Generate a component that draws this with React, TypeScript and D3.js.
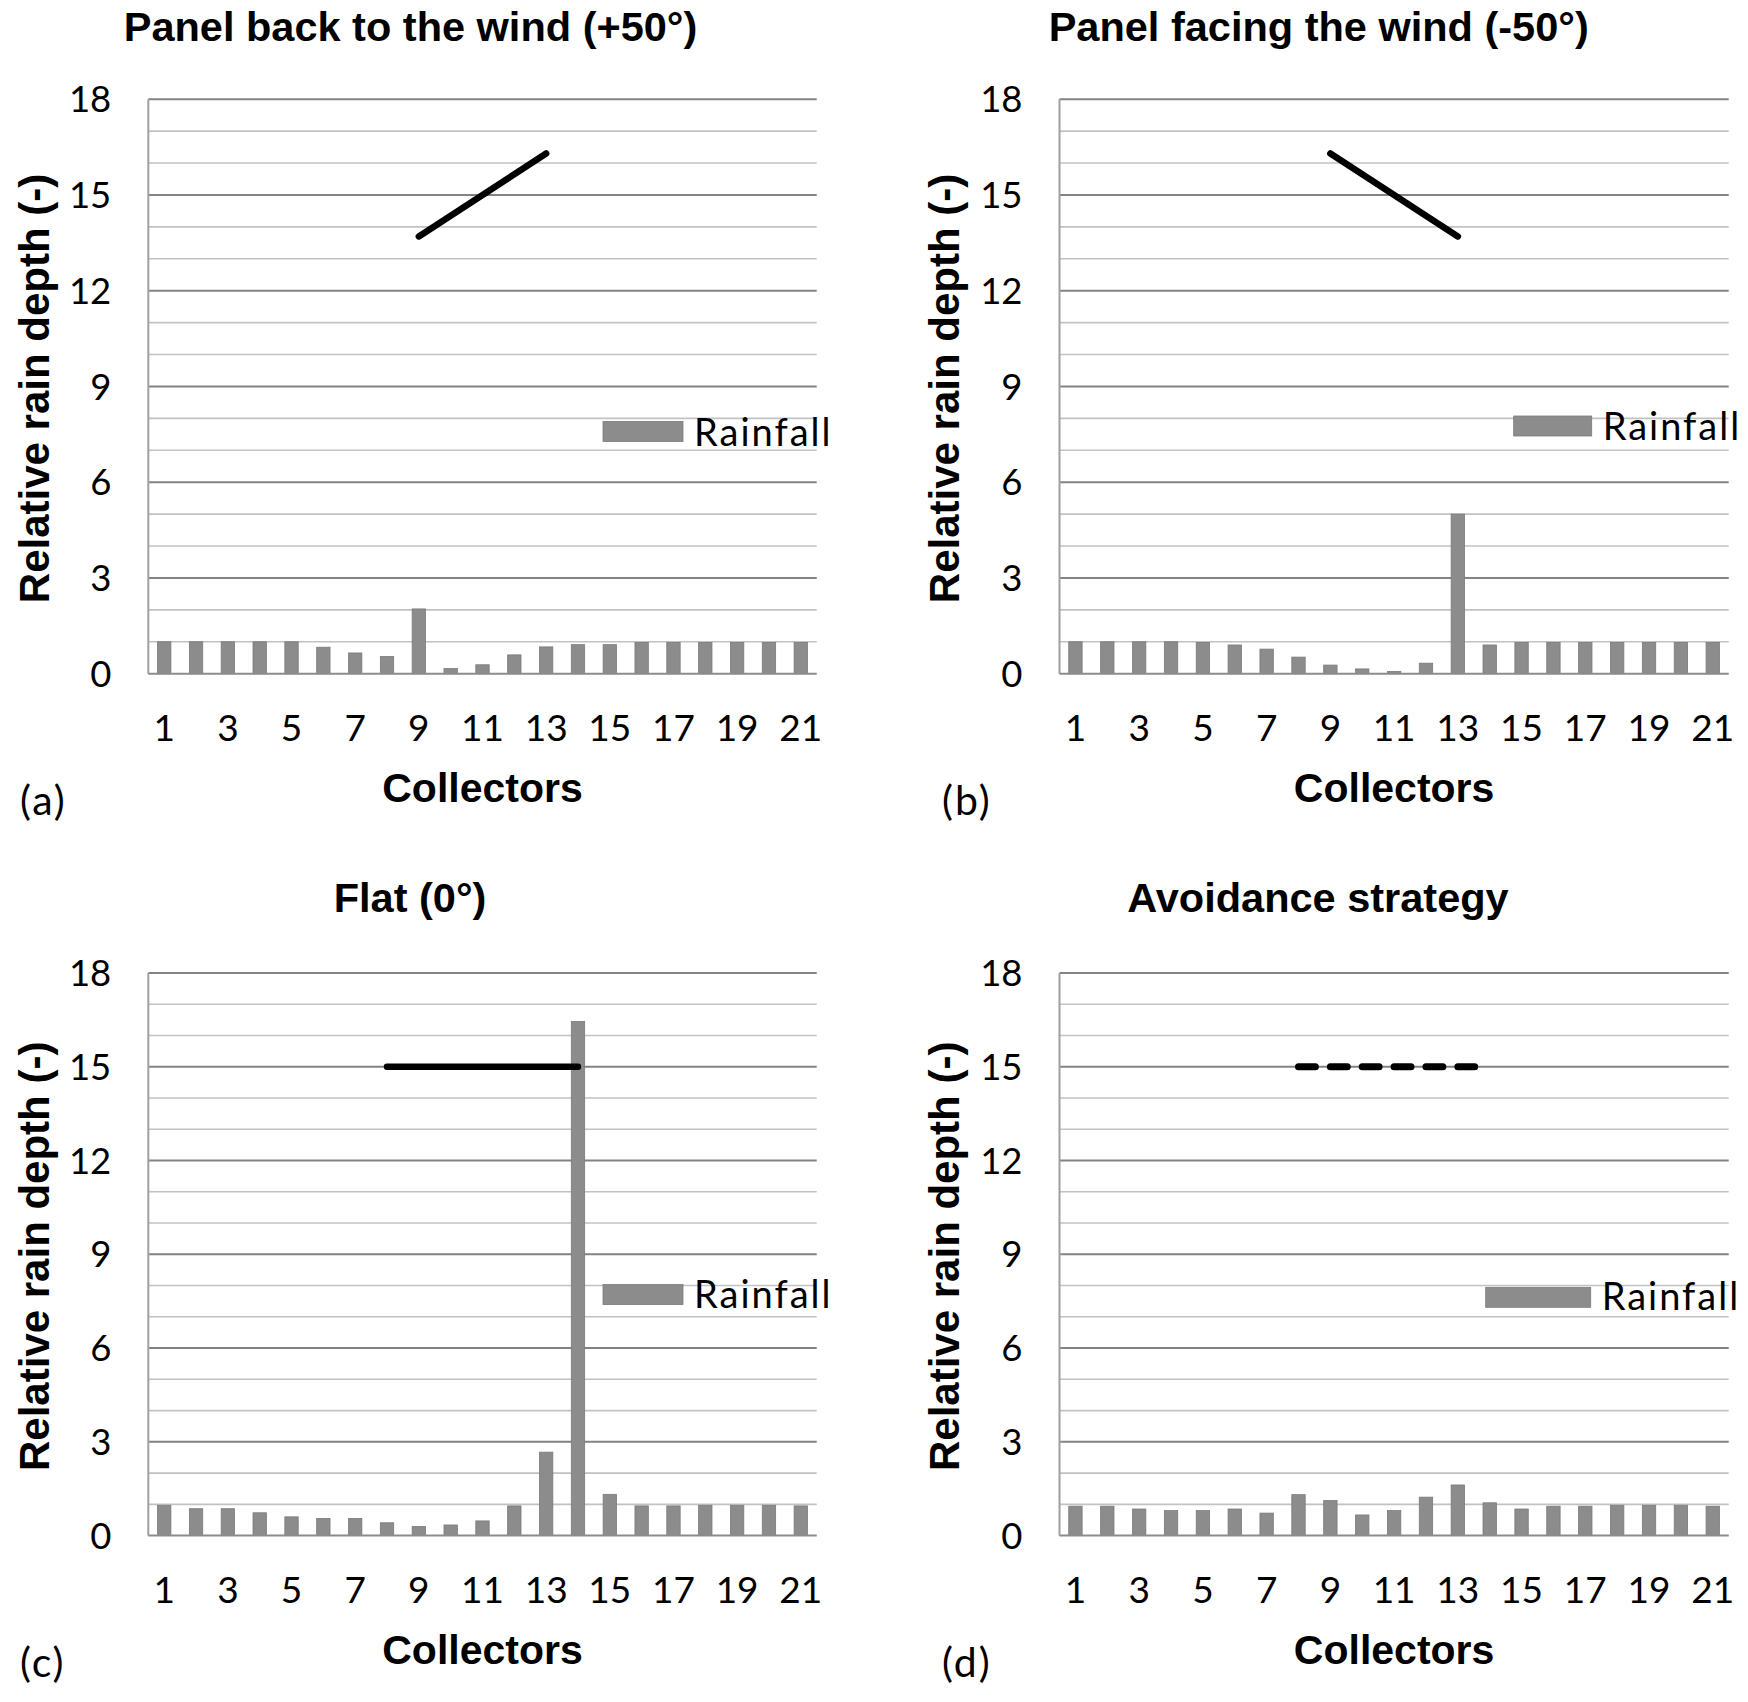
import React, { useEffect, useRef } from "react";
import * as d3 from "d3";

// collectors along the x axis and labelled ticks
const collectors = [1, 2, 3, 4, 5, 6, 7, 8, 9, 10, 11, 12, 13, 14, 15, 16, 17, 18, 19, 20, 21];
const xTickLabels = [1, 3, 5, 7, 9, 11, 13, 15, 17, 19, 21];
const yTickLabels = [0, 3, 6, 9, 12, 15, 18];

// relative rain depth per collector
const rainBack = [1.0, 1.0, 1.0, 1.0, 1.0, 0.83, 0.65, 0.54, 2.03, 0.16, 0.28, 0.59, 0.84, 0.91, 0.91, 0.98, 0.98, 0.98, 0.98, 0.98, 0.98];
const rainFacing = [1.0, 1.0, 1.0, 1.0, 0.98, 0.9, 0.77, 0.52, 0.27, 0.15, 0.07, 0.33, 5.0, 0.9, 0.98, 0.98, 0.98, 0.98, 0.98, 0.98, 0.98];
const rainFlat = [0.97, 0.86, 0.86, 0.73, 0.6, 0.55, 0.55, 0.41, 0.29, 0.34, 0.47, 0.95, 2.67, 16.45, 1.32, 0.95, 0.95, 0.97, 0.97, 0.97, 0.95];
const rainAvoid = [0.94, 0.94, 0.85, 0.8, 0.8, 0.85, 0.72, 1.31, 1.12, 0.66, 0.8, 1.23, 1.62, 1.05, 0.85, 0.94, 0.94, 0.97, 0.97, 0.97, 0.94];

// panel position (collector, height) endpoints
const panelBack = [{ c: 9, v: 13.7 }, { c: 13, v: 16.3 }];
const panelFacing = [{ c: 9, v: 16.3 }, { c: 13, v: 13.7 }];
const panelFlat = [{ c: 8, v: 15 }, { c: 14, v: 15 }];
const panelAvoid = [{ c: 8, v: 15 }, { c: 14, v: 15 }];

const titles = [
  "Panel back to the wind (+50°)",
  "Panel facing the wind (-50°)",
  "Flat (0°)",
  "Avoidance strategy",
];
const letters = ["(a)", "(b)", "(c)", "(d)"];

const BOLD = "'Liberation Sans', Arial, sans-serif";
const PLAIN = "Lato, 'Open Sans', sans-serif";

const layout = [
  { left: 148.3, right: 816.7, top: 99.2, bottom: 673.7, titleX: 410.5, titleY: 41, yLabelX: 33.5, letterX: 20, legX: 603, legW: 80, legY: 421.5, legTextY: 445.5 },
  { left: 1059.5, right: 1728.7, top: 99.2, bottom: 673.7, titleX: 1318.7, titleY: 41, yLabelX: 944, letterX: 942, legX: 1513.7, legW: 78, legY: 416, legTextY: 439.5 },
  { left: 148.3, right: 816.7, top: 973, bottom: 1535.6, titleX: 410, titleY: 911.7, yLabelX: 33.5, letterX: 20, legX: 603, legW: 80, legY: 1284.6, legTextY: 1308 },
  { left: 1059.5, right: 1728.7, top: 973, bottom: 1535.6, titleX: 1318, titleY: 911.7, yLabelX: 944, letterX: 942, legX: 1485.7, legW: 105, legY: 1287.3, legTextY: 1309.5 },
];

const rains = [rainBack, rainFacing, rainFlat, rainAvoid];
const panelLines = [panelBack, panelFacing, panelFlat, panelAvoid];

export default function App() {
  const svgRef = useRef<SVGSVGElement>(null);

  useEffect(() => {
    if (!svgRef.current) return;
    const svg = d3.select(svgRef.current);
    svg.selectAll("*").remove();

    layout.forEach((p, i) => {
      const rain = rains[i];
      const g = svg.append("g");

      const x = d3
        .scaleBand<number>()
        .domain(collectors)
        .range([p.left, p.right])
        .paddingInner(0.58)
        .paddingOuter(0.29);
      const bw = x.bandwidth();
      const cx = (c: number) => (x(c) as number) + bw / 2;

      const y = d3.scaleLinear().domain([0, 18]).range([p.bottom, p.top]);

      // gridlines, darker every 3 units
      g.selectAll(".grid")
        .data(y.ticks(18).filter((v) => v > 0))
        .enter()
        .append("line")
        .attr("x1", p.left)
        .attr("x2", p.right)
        .attr("y1", (d) => y(d))
        .attr("y2", (d) => y(d))
        .attr("stroke", (d) => (d % 3 === 0 ? "#838383" : "#c2c2c2"))
        .attr("stroke-width", (d) => (d % 3 === 0 ? 2 : 1.6));

      // axes lines
      g.append("line")
        .attr("x1", p.left)
        .attr("x2", p.left)
        .attr("y1", p.top)
        .attr("y2", p.bottom)
        .attr("stroke", "#a0a0a0")
        .attr("stroke-width", 2);

      // bars
      g.selectAll(".bar")
        .data(collectors)
        .enter()
        .append("rect")
        .attr("x", (c) => x(c) as number)
        .attr("y", (c, k) => y(rain[k]))
        .attr("width", bw)
        .attr("height", (c, k) => p.bottom - y(rain[k]))
        .attr("fill", "#8c8c8c")
        .attr("stroke", "#7a7a7a")
        .attr("stroke-width", 0.8);

      g.append("line")
        .attr("x1", p.left)
        .attr("x2", p.right)
        .attr("y1", p.bottom)
        .attr("y2", p.bottom)
        .attr("stroke", "#8c8c8c")
        .attr("stroke-width", 2);

      // panel line
      const line = d3
        .line<{ c: number; v: number }>()
        .x((d) => cx(d.c))
        .y((d) => y(d.v));
      const path = g
        .append("path")
        .attr("d", line(panelLines[i]) as string)
        .attr("fill", "none")
        .attr("stroke", "#000")
        .attr("stroke-width", 6.5)
        .attr("stroke-linecap", "round");
      if (i === 3) {
        const step = x.step();
        path
          .attr("stroke-width", 7)
          .attr("stroke-dasharray", `${step * 0.53},${step * 0.47}`);
      }

      // y tick labels
      g.selectAll(".ytick")
        .data(yTickLabels)
        .enter()
        .append("text")
        .attr("x", p.left - 37)
        .attr("y", (d) => y(d))
        .attr("dy", "0.36em")
        .attr("text-anchor", "end")
        .style("font-family", PLAIN)
        .style("font-size", "36.5px")
        .text((d) => d);

      // x tick labels
      g.selectAll(".xtick")
        .data(xTickLabels)
        .enter()
        .append("text")
        .attr("x", (d) => cx(d))
        .attr("y", p.bottom + 67.5)
        .attr("text-anchor", "middle")
        .style("font-family", PLAIN)
        .style("font-size", "37px")
        .text((d) => d);

      // title
      g.append("text")
        .attr("x", p.titleX)
        .attr("y", p.titleY)
        .attr("text-anchor", "middle")
        .style("font-family", BOLD)
        .style("font-weight", "bold")
        .style("font-size", "41.5px")
        .text(titles[i]);

      // y axis title
      const yMid = (p.top + p.bottom) / 2;
      g.append("text")
        .attr("transform", `translate(${p.yLabelX},${yMid + 2}) rotate(-90)`)
        .attr("dy", "0.36em")
        .attr("text-anchor", "middle")
        .style("font-family", BOLD)
        .style("font-weight", "bold")
        .style("font-size", "42px")
        .text("Relative rain depth (-)");

      // x axis title
      g.append("text")
        .attr("x", (p.left + p.right) / 2)
        .attr("y", p.bottom + 128.3)
        .attr("text-anchor", "middle")
        .style("font-family", BOLD)
        .style("font-weight", "bold")
        .style("font-size", "41px")
        .text("Collectors");

      // panel letter
      g.append("text")
        .attr("x", p.letterX)
        .attr("y", p.bottom + 141)
        .style("font-family", PLAIN)
        .style("font-size", "41px")
        .style("letter-spacing", "2px")
        .text(letters[i]);

      // legend
      g.append("rect")
        .attr("x", p.legX)
        .attr("y", p.legY)
        .attr("width", p.legW)
        .attr("height", 20)
        .attr("fill", "#8c8c8c")
        .attr("stroke", "#7a7a7a")
        .attr("stroke-width", 0.8);
      g.append("text")
        .attr("x", p.legX + p.legW + 11)
        .attr("y", p.legTextY)
        .style("font-family", PLAIN)
        .style("font-size", "38px")
        .style("letter-spacing", "2px")
        .text("Rainfall");
    });
  }, []);

  return (
    <svg
      ref={svgRef}
      width={1748}
      height={1702}
      style={{ position: "absolute", left: 0, top: 0, background: "#fff" }}
    />
  );
}
